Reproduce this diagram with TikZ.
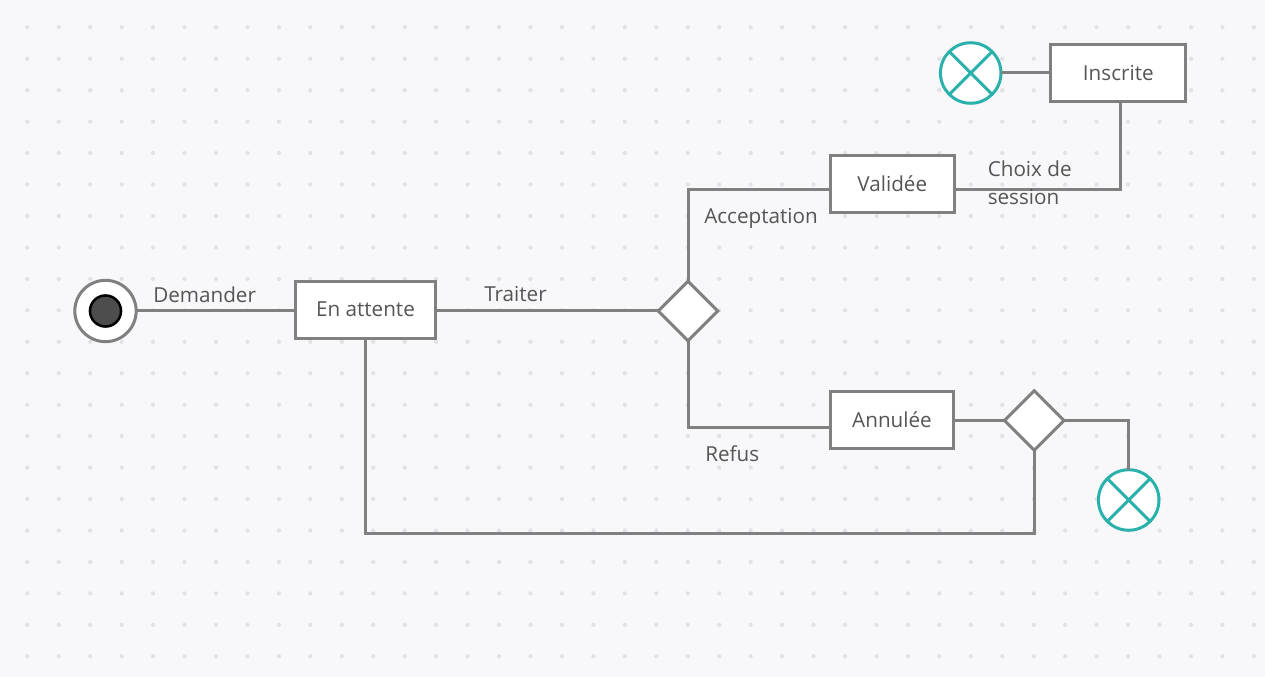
\documentclass[tikz,border=0pt]{standalone}
\usepackage{fontspec}
\setmainfont{Open Sans}
\usetikzlibrary{shapes.geometric,calc}
\definecolor{bg}{HTML}{F8F8FA}
\definecolor{dotc}{HTML}{E2E2E6}
\definecolor{ln}{HTML}{808080}
\definecolor{txt}{HTML}{555555}
\definecolor{tealc}{HTML}{2AB1AB}
\definecolor{dark}{HTML}{4D4D4D}
\begin{document}
\begin{tikzpicture}[x=0.75pt,y=-0.75pt,
  font=\fontsize{15.5pt}{18pt}\selectfont,
  statebox/.style={rectangle, draw=ln, line width=2.25pt, fill=white, text=txt, minimum height=42.5pt, inner sep=0pt, outer sep=0pt},
  decision/.style={diamond, draw=ln, line width=2.25pt, fill=white, minimum width=44.7pt, minimum height=44.7pt, inner sep=0pt, outer sep=0pt},
  finalnode/.style={circle, draw=tealc, line width=2.25pt, fill=white, minimum size=45.4pt, inner sep=0pt, outer sep=0pt},
  cross/.style={draw=tealc, line width=2.25pt},
  conn/.style={draw=ln, line width=2.25pt},
  lbl/.style={text=txt, inner sep=0pt, anchor=base west}]
\fill[bg] (0,0) rectangle (1265,677);
\useasboundingbox (0,0) rectangle (1265,677);
\foreach \i in {0,...,39}{
  \foreach \j in {0,...,20}{
    \fill[dotc] ({27.3+31.45*\i},{27.3+31.45*\j}) circle (1.6pt);
  }
}
% nodes
\node[circle, draw=ln, line width=2.25pt, fill=white, minimum size=46pt, inner sep=0pt, outer sep=0pt] (start) at (105.5,311) {};
\node[circle, draw=black, line width=1.9pt, fill=dark, minimum size=23.3pt, inner sep=0pt] (startin) at (start.center) {};
\node[statebox, minimum width=104.5pt] (enatt) at (365.5,309.7) {En attente};
\node[decision] (d1) at (688,311) {};
\node[statebox, minimum width=92.8pt] (validee) at (892.3,183.7) {Validée};
\node[statebox, minimum width=101.3pt] (inscrite) at (1118.3,73.3) {Inscrite};
\node[statebox, minimum width=92.3pt] (annulee) at (892,420) {Annulée};
\node[decision] (d2) at (1034.3,420.5) {};
\node[finalnode] (c1) at (970.7,73) {};
\node[finalnode] (c2) at (1128.7,500) {};
\draw[cross] (c1.north east) -- (c1.south west) (c1.north west) -- (c1.south east);
\draw[cross] (c2.north east) -- (c2.south west) (c2.north west) -- (c2.south east);
\coordinate (bot) at (700,533);
% connectors
\draw[conn] (start.east) -- (start.east -| enatt.west);
\draw[conn] (enatt.east |- d1.west) -- (d1.west);
\draw[conn] (d1.north) |- ([yshift=-4.35pt]validee.west);
\draw[conn] ([yshift=-4.35pt]validee.east) -| ([xshift=1.3pt]inscrite.south);
\draw[conn] (c1.east) -- (c1.east -| inscrite.west);
\draw[conn] (d1.south) |- ([yshift=-6pt]annulee.west);
\draw[conn] (annulee.east |- d2.west) -- (d2.west);
\draw[conn] (d2.east) -| (c2.north);
\draw[conn] (enatt.south) |- (bot) -| (d2.south);
% labels
\node[lbl] (lDem) at (153,302.5) {Demander};
\node[lbl] (lTra) at (484,302) {Traiter};
\node[lbl] (lAcc) at (704,224) {Acceptation};
\node[lbl] (lCh1) at (987.5,176.7) {Choix de};
\node[lbl] (lCh2) at (987.5,205) {session};
\node[lbl] (lRef) at (705,461.5) {Refus};
\end{tikzpicture}
\end{document}
